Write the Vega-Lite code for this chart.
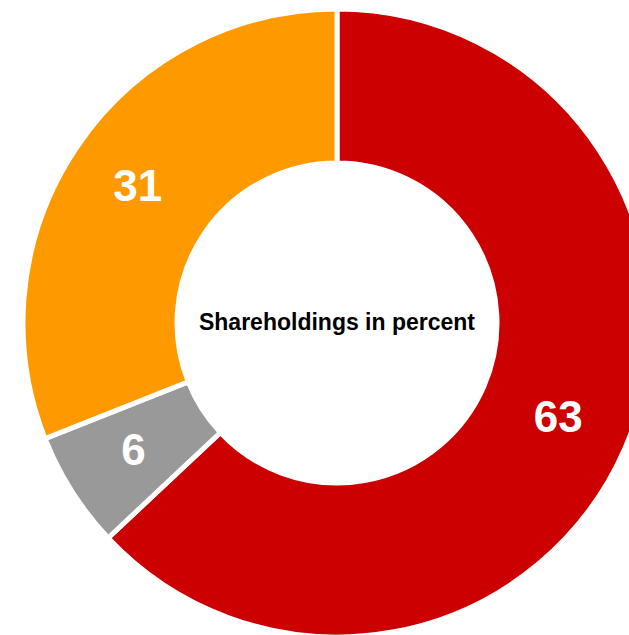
{
  "$schema": "https://vega.github.io/schema/vega-lite/v6.json",
  "autosize": "none",
  "padding": 0,
  "width": 674,
  "height": 646,
  "background": "white",
  "config": {"view": {"stroke": null}},
  "datasets": {
    "shares": [
      {"group": "A", "value": 63, "rank": 1},
      {"group": "B", "value": 6, "rank": 2},
      {"group": "C", "value": 31, "rank": 3}
    ],
    "title": [{"label": "Shareholdings in percent"}]
  },
  "layer": [
    {
      "data": {"name": "shares"},
      "mark": {"type": "arc", "outerRadius": 314, "innerRadius": 160, "stroke": "white", "strokeWidth": 5},
      "encoding": {
        "theta": {"field": "value", "type": "quantitative", "stack": true},
        "order": {"field": "rank", "type": "quantitative"},
        "color": {"field": "group", "type": "nominal", "scale": {"domain": ["A", "B", "C"], "range": ["#cc0000", "#999999", "#ff9900"]}, "legend": null}
      }
    },
    {
      "data": {"name": "shares"},
      "mark": {"type": "text", "radius": 241, "fontSize": 44, "fontWeight": "bold", "font": "Liberation Sans", "color": "white", "align": "center", "baseline": "middle"},
      "encoding": {
        "theta": {"field": "value", "type": "quantitative", "stack": true},
        "order": {"field": "rank", "type": "quantitative"},
        "text": {"field": "value", "type": "quantitative"}
      }
    },
    {
      "data": {"name": "title"},
      "mark": {"type": "text", "fontSize": 23, "fontWeight": "bold", "font": "Liberation Sans", "color": "black", "align": "center", "baseline": "middle"},
      "encoding": {
        "text": {"field": "label", "type": "nominal"}
      }
    }
  ]
}
